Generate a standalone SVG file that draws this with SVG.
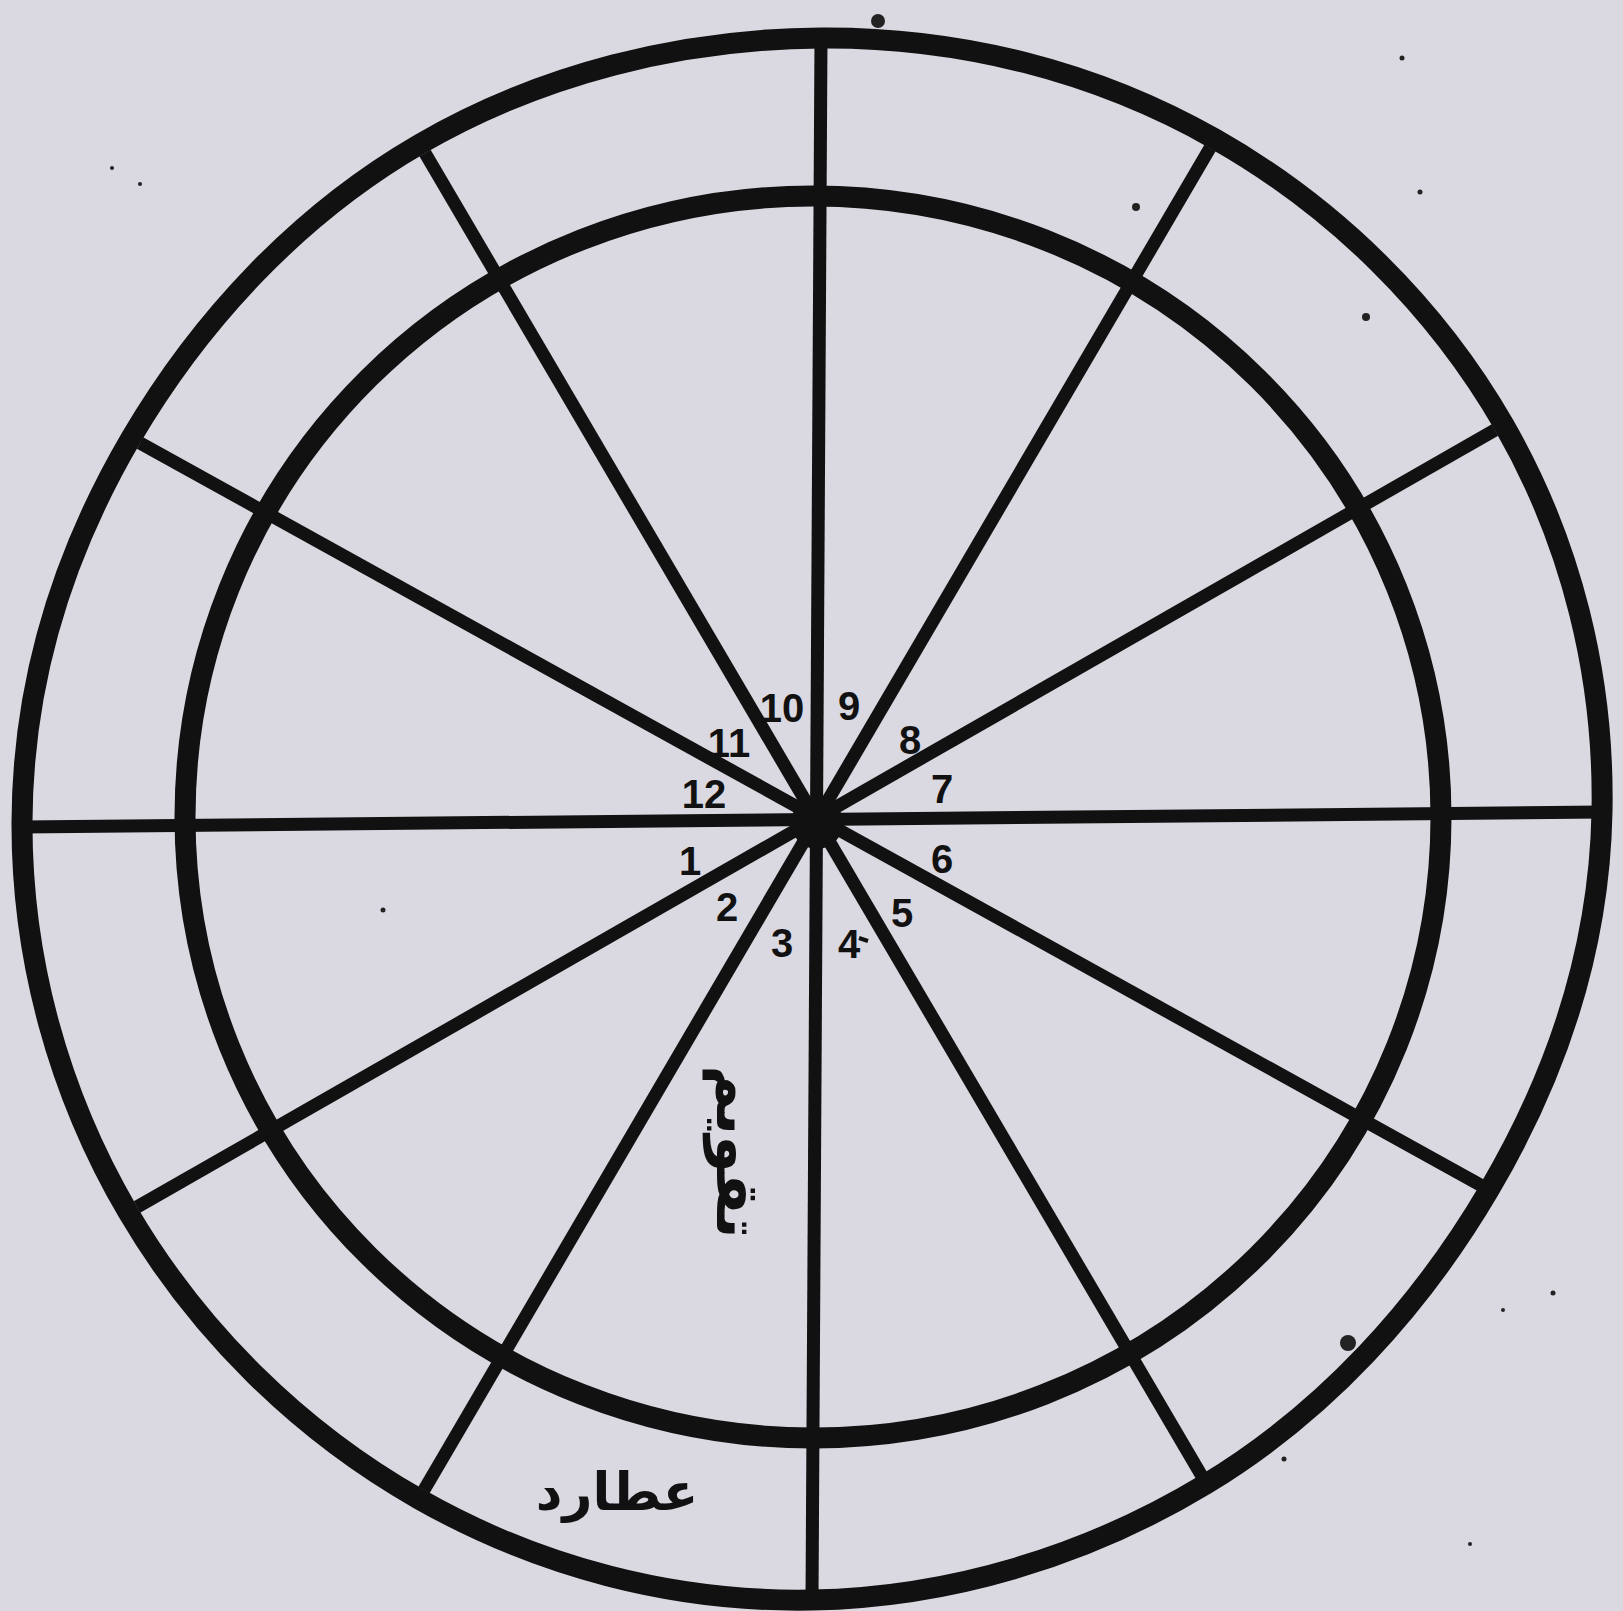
<svg xmlns="http://www.w3.org/2000/svg" width="1623" height="1611" viewBox="0 0 1623 1611">
<style>
.ring{fill:none;stroke:#111;stroke-width:21}
.spoke{stroke:#111;stroke-width:13;stroke-linecap:butt}
.num{font-family:"Liberation Sans",Arial,sans-serif;font-weight:bold;font-size:40px;fill:#111;text-anchor:middle;dominant-baseline:central}
.ur{font-family:"DejaVu Sans","Noto Sans",sans-serif;font-weight:bold;fill:#111;text-anchor:middle;dominant-baseline:central}
.speck{fill:#222}
</style>
<rect x="0" y="0" width="1623" height="1611" fill="#dad9e1"/>
<g id="rings">
<path id="outer-ring" class="ring" d="M821,38 C960.5,37.1 1095.2,71.1 1215,139 C1334.8,206.9 1436.1,306.9 1504,425 C1571.9,543.1 1604.6,677.7 1602,812 C1599.4,946.3 1558.5,1072.1 1489,1190 C1419.5,1307.9 1324.8,1412.1 1206,1484 C1087.2,1555.9 950.2,1597.4 812,1600 C673.8,1602.6 539,1567.1 419,1499 C299,1430.9 197.7,1330.8 128,1212 C58.3,1093.2 21.5,957.8 22,822 C22.5,686.2 61.2,557 131,438 C200.8,319 298.9,214.2 420,144 C541.1,73.8 681.5,38.9 821,38 Z"/>
<ellipse id="inner-ring" class="ring" cx="813" cy="817" rx="628" ry="621"/>
</g>
<g id="connectors">
<line class="spoke" x1="22" y1="827" x2="1602" y2="812"/>
<line class="spoke" x1="821" y1="38" x2="812" y2="1600"/>
<line class="spoke" x1="425" y1="153" x2="1203" y2="1478"/>
<line class="spoke" x1="1210" y1="148" x2="424" y2="1490"/>
<line class="spoke" x1="140" y1="443" x2="1484" y2="1187"/>
<line class="spoke" x1="137" y1="1207" x2="1495" y2="430"/>
<circle cx="817" cy="823" r="26" fill="#111"/>
</g>
<g id="labels">
<text class="num" x="782" y="708">10</text>
<text class="num" x="849" y="706">9</text>
<text class="num" x="910" y="740">8</text>
<text class="num" x="729" y="743">11</text>
<text class="num" x="704" y="794">12</text>
<text class="num" x="942" y="789">7</text>
<text class="num" x="690" y="861">1</text>
<text class="num" x="942" y="859">6</text>
<text class="num" x="727" y="907">2</text>
<text class="num" x="902" y="913">5</text>
<text class="num" x="782" y="943">3</text>
<text class="num" x="849" y="944">4</text>
</g>
<g id="urdu-labels">
<text class="ur" font-size="60" transform="translate(738,1152) rotate(90)">تقویم</text>
<text class="ur" font-size="52" x="617" y="1492">عطارد</text>
</g>
<g id="specks">
<line x1="859" y1="938" x2="868" y2="941" stroke="#111" stroke-width="4"/>
<circle class="speck" cx="1348" cy="1343" r="8"/>
<circle class="speck" cx="878" cy="21" r="7"/>
<circle class="speck" cx="1136" cy="207" r="4"/>
<circle class="speck" cx="1366" cy="317" r="4"/>
<circle class="speck" cx="1402" cy="58" r="2.5"/>
<circle class="speck" cx="1420" cy="192" r="2.5"/>
<circle class="speck" cx="1553" cy="1293" r="2.5"/>
<circle class="speck" cx="1503" cy="1310" r="2"/>
<circle class="speck" cx="1284" cy="1459" r="2.5"/>
<circle class="speck" cx="1470" cy="1544" r="2"/>
<circle class="speck" cx="112" cy="168" r="2"/>
<circle class="speck" cx="140" cy="184" r="2"/>
<circle class="speck" cx="383" cy="910" r="2.5"/>
</g>
</svg>
